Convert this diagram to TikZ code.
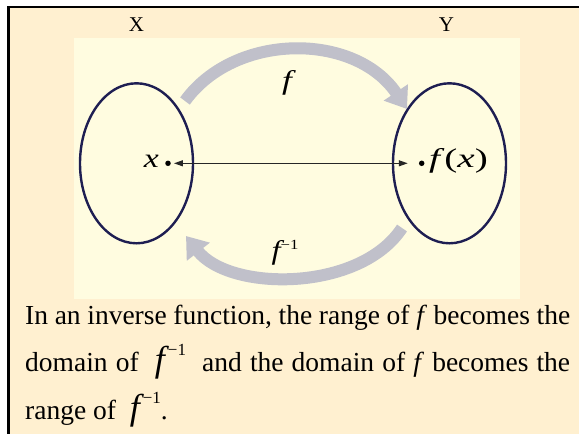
\documentclass[tikz,border=0pt]{standalone}
\usepackage{fontspec}
\setmainfont{Liberation Serif}
\usetikzlibrary{shapes.geometric,arrows.meta}
\definecolor{outerbg}{HTML}{FFF0D0}
\definecolor{innerbg}{HTML}{FFFCE0}
\definecolor{setnavy}{HTML}{1E1E52}
\definecolor{arcgray}{HTML}{C0C0CA}
\newcommand{\finvbig}{{\fontsize{36pt}{36pt}\selectfont\itshape f}\hspace{3pt}\raisebox{16pt}{\fontsize{17pt}{17pt}\selectfont −1}}
\newcommand{\bodysize}{\fontsize{27.5pt}{27.5pt}\selectfont}
\begin{document}
\begin{tikzpicture}[x=1pt,y=-1pt,
  setshape/.style={draw=setnavy, line width=2.4pt, ellipse, minimum width=113pt, minimum height=160pt, inner sep=0pt},
  dotshape/.style={circle, fill=black, minimum size=5.5pt, inner sep=0pt},
  mathlbl/.style={font=\fontsize{27pt}{27pt}\selectfont, inner sep=0pt},
  setlbl/.style={font=\fontsize{21pt}{21pt}\selectfont, inner sep=0pt, anchor=base},
  bodyline/.style={font=\bodysize, inner sep=0pt, anchor=base west},
  bigarc/.style={line width=12pt, draw=arcgray, -{Triangle[width=28pt,length=20pt]}},
  linkarrow/.style={line width=1.2pt, draw=black!85, {Triangle[length=9pt,width=6pt]}-{Triangle[length=9pt,width=6pt]}}
]
\useasboundingbox (0,0) rectangle (579,434);
\fill[white] (0,0) rectangle (579,434);
\fill[outerbg] (8.5,7) rectangle (579,434);
\fill[innerbg] (74,38) rectangle (520,299);
\draw[line width=2.5pt] (8.5,434) -- (8.5,7) -- (579,7);

\node[setlbl] (Xl) at (136.5,31.5) {X};
\node[setlbl] (Yl) at (446.5,31.5) {Y};

\node[setshape] (setX) at (136.5,163.3) {};
\node[setshape] (setY) at (449.5,163.3) {};

\node[dotshape] (xd) at (168,163.3) {};
\node[dotshape] (fd) at (421.7,163.3) {};
\node[mathlbl, anchor=east] (xl) at (159,161) {\scalebox{1.25}[1]{\itshape x}};
\node[mathlbl, anchor=west] (fxl) at (429,161) {\scalebox{1.45}[1]{\itshape f\hspace{3pt}\upshape(\itshape x\upshape)}};

\draw[linkarrow, shorten <=3pt, shorten >=11pt] (xd) -- (fd);

\coordinate (fs) at (185,101);
\coordinate (fe) at (407,109);
\draw[bigarc] (fs) .. controls (235,32) and (355,32) .. (fe);
\coordinate (gs) at (402,228);
\coordinate (ge) at (186,236);
\draw[bigarc] (gs) .. controls (360,292) and (230,292) .. (ge);

\node[mathlbl] (flab) at (287,83) {\scalebox{1.3}[1]{\itshape f}};
\node[inner sep=0pt] (finvlab) at (285,253) {\scalebox{1.2}[1]{{\fontsize{27pt}{27pt}\selectfont\itshape f}\raisebox{10pt}{\fontsize{14pt}{14pt}\selectfont −1}}};

\node[bodyline] (t1) at (25,324) {\makebox[545pt][s]{In an inverse function, the range of \textit{f} becomes the}};
\node[bodyline] (t2) at (25,371) {\makebox[545pt][s]{domain of \ \finvbig\ \ and the domain of \textit{f} becomes the}};
\node[bodyline] (t3) at (25,419) {range of \ \finvbig.};
\end{tikzpicture}
\end{document}
